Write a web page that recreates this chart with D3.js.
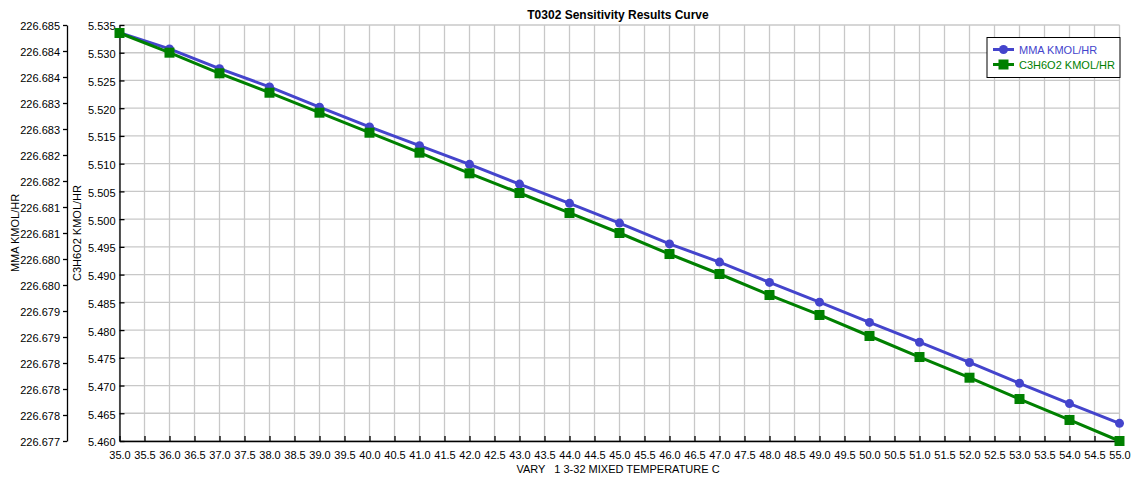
<!DOCTYPE html>
<html>
<head>
<meta charset="utf-8">
<script src="https://cdn.jsdelivr.net/npm/d3@7"></script>
<style>
  body { margin: 0; background: #fff; }
  text { font-family: "Liberation Sans", Arial, sans-serif; }
</style>
</head>
<body>
<svg id="chart" width="1140" height="478"></svg>
<script>
// Sensitivity results

const temps = [35, 36, 37, 38, 39, 40, 41, 42, 43, 44, 45, 46, 47, 48, 49, 50, 51, 52, 53, 54, 55];

const mma = [226.68485, 226.68454, 226.68416, 226.68381, 226.68342, 226.68304, 226.68268,
  226.68232, 226.68194, 226.68157, 226.68119, 226.68079, 226.68044, 226.68005, 226.67967,
  226.67928, 226.67890, 226.67851, 226.67811, 226.67772, 226.67734];

const c3h6o2 = [5.53356, 5.53001, 5.52629, 5.52279, 5.51919, 5.51558, 5.51198, 5.50826,
  5.50471, 5.50111, 5.49750, 5.49371, 5.49011, 5.48632, 5.48272, 5.47893, 5.47514,
  5.47141, 5.46757, 5.46379, 5.46000];

const xTicks = d3.range(35, 55.01, 0.5);
const c3Ticks = d3.range(5.460, 5.5351, 0.005);
const mmaTickValues = d3.range(0, 17).map(i => 226.677 + i * 0.0005);
const mmaTickLabels = ['226.677', '226.678', '226.678', '226.678', '226.679', '226.679',
  '226.680', '226.680', '226.681', '226.681', '226.682', '226.682', '226.683', '226.683',
  '226.684', '226.684', '226.685'];

const seriesNames = ['MMA KMOL/HR', 'C3H6O2 KMOL/HR'];
const colors = ['#4444cc', '#008000'];

const svg = d3.select('#chart');
const plotLeft = 119.5, plotRight = 1119.5, plotTop = 25, plotBottom = 441;

const x = d3.scaleLinear().domain([35, 55]).range([plotLeft, plotRight]);
const yC3 = d3.scaleLinear().domain([5.460, 5.535]).range([plotBottom, plotTop]);
const yMma = d3.scaleLinear().domain([226.677, 226.685]).range([plotBottom, plotTop]);

// grid
const grid = svg.append('g').attr('stroke', '#c8c8c8').attr('stroke-width', 1.3);
grid.selectAll('.vg').data(xTicks).enter().append('line')
  .attr('x1', d => x(d)).attr('x2', d => x(d))
  .attr('y1', plotTop).attr('y2', plotBottom);
grid.selectAll('.hg').data(c3Ticks).enter().append('line')
  .attr('x1', plotLeft).attr('x2', plotRight)
  .attr('y1', d => yC3(d)).attr('y2', d => yC3(d));

// bottom axis, ticks pointing up
const xAxis = svg.append('g').attr('transform', `translate(0,${plotBottom})`)
  .call(d3.axisBottom(x).tickValues(xTicks).tickFormat(d3.format('.1f')).tickSizeInner(-5).tickSizeOuter(0).tickPadding(10));

// inner y axis (C3H6O2), ticks pointing right
const c3Axis = svg.append('g').attr('transform', `translate(${plotLeft},0)`)
  .call(d3.axisLeft(yC3).tickValues(c3Ticks).tickFormat(d3.format('.3f')).tickSizeInner(-5).tickSizeOuter(0).tickPadding(4));

// outer y axis (MMA), ticks pointing left
const mmaAxis = svg.append('g').attr('transform', 'translate(67,0)')
  .call(d3.axisLeft(yMma).tickValues(mmaTickValues).tickFormat((d, i) => mmaTickLabels[i]).tickSize(4).tickSizeOuter(0).tickPadding(3));

[xAxis, c3Axis, mmaAxis].forEach(a => {
  a.selectAll('path, line').attr('stroke', '#000').attr('stroke-width', 1.3);
  a.selectAll('text').attr('font-size', 11).attr('fill', '#000')
    .style('font-family', '"Liberation Sans", Arial, sans-serif');
});
c3Axis.selectAll('text').attr('dy', '0.45em');
mmaAxis.selectAll('text').attr('dy', '0.45em');

// titles
svg.append('text').attr('x', 618).attr('y', 19).attr('text-anchor', 'middle')
  .attr('font-size', 12).attr('font-weight', 'bold').text('T0302 Sensitivity Results Curve');
svg.append('text').attr('x', 618).attr('y', 473).attr('text-anchor', 'middle')
  .attr('font-size', 11).attr('xml:space', 'preserve').text('VARY   1 3-32 MIXED TEMPERATURE C');
svg.append('text').attr('transform', 'translate(19,233) rotate(-90)').attr('text-anchor', 'middle')
  .attr('font-size', 11).text('MMA KMOL/HR');
svg.append('text').attr('transform', 'translate(81,233) rotate(-90)').attr('text-anchor', 'middle')
  .attr('font-size', 11).text('C3H6O2 KMOL/HR');

// lines
const lineMma = d3.line().x((d, i) => x(temps[i])).y(d => yMma(d));
const lineC3 = d3.line().x((d, i) => x(temps[i])).y(d => yC3(d));

svg.append('path').datum(mma).attr('d', lineMma)
  .attr('fill', 'none').attr('stroke', colors[0]).attr('stroke-width', 3);
svg.append('g').selectAll('circle').data(mma).enter().append('circle')
  .attr('cx', (d, i) => x(temps[i])).attr('cy', d => yMma(d)).attr('r', 4.5)
  .attr('fill', colors[0]);

svg.append('path').datum(c3h6o2).attr('d', lineC3)
  .attr('fill', 'none').attr('stroke', colors[1]).attr('stroke-width', 3);
svg.append('g').selectAll('rect').data(c3h6o2).enter().append('rect')
  .attr('x', (d, i) => x(temps[i]) - 5).attr('y', d => yC3(d) - 5)
  .attr('width', 10).attr('height', 10).attr('fill', colors[1]);

// legend
const legend = svg.append('g').attr('transform', 'translate(987,37.5)');
legend.append('rect').attr('width', 133).attr('height', 40)
  .attr('fill', '#fff').attr('stroke', '#000').attr('stroke-width', 1);
seriesNames.forEach((name, i) => {
  const ly = 12 + i * 15;
  const g = legend.append('g').attr('transform', `translate(0,${ly})`);
  g.append('line').attr('x1', 6).attr('x2', 27).attr('stroke', colors[i]).attr('stroke-width', 3);
  if (i === 0) {
    g.append('circle').attr('cx', 16.5).attr('r', 4.5).attr('fill', colors[i]);
  } else {
    g.append('rect').attr('x', 11.5).attr('y', -5).attr('width', 10).attr('height', 10).attr('fill', colors[i]);
  }
  g.append('text').attr('x', 32).attr('dy', '0.38em').attr('font-size', 11)
    .attr('fill', colors[i]).text(name);
});
</script>
</body>
</html>
